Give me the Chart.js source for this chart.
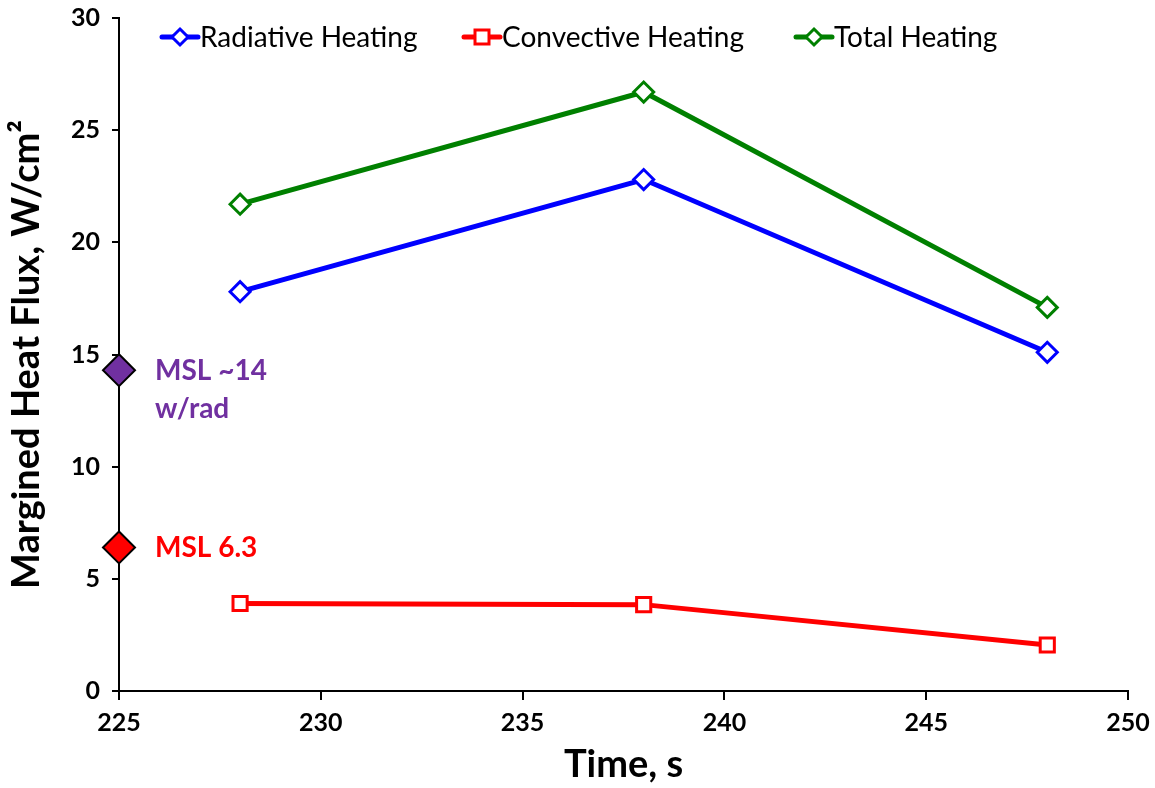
<!DOCTYPE html>
<html>
<head>
<meta charset="utf-8">
<script src="https://cdn.jsdelivr.net/npm/chart.js@4.4.0/dist/chart.umd.min.js"></script>
<style>
  html, body { margin: 0; padding: 0; background: #fff; }
  #wrap { width: 1155px; height: 788px; }
</style>
</head>
<body>
<div id="wrap"><canvas id="heatChart"></canvas></div>
<script>
// data
const times = [228, 238, 248];
const radiative = [17.8, 22.8, 15.1];
const convective = [3.9, 3.85, 2.05];
const total = [21.7, 26.7, 17.1];
const mslTime = 225;
const mslRad = 14.3;
const mslConv = 6.4;
const xTicks = [225, 230, 235, 240, 245, 250];
const yTicks = [0, 5, 10, 15, 20, 25, 30];

const FONT = 'Lato, "Open Sans", sans-serif';

function pts(xs, ys) {
    return xs.map((x, i) => ({ x: x, y: ys[i] }));
}

// legend drawn inside the plot, line + marker like the original
const insideLegend = {
    id: 'insideLegend',
    afterDraw(chart) {
        const ctx = chart.ctx;
        const items = [
            { ds: 0, x: 162, text: 'Radiative Heating' },
            { ds: 1, x: 464, text: 'Convective Heating' },
            { ds: 2, x: 796, text: 'Total Heating' }
        ];
        const y = 37;
        ctx.save();
        items.forEach(it => {
            const ds = chart.data.datasets[it.ds];
            ctx.strokeStyle = ds.borderColor;
            ctx.lineWidth = 5;
            ctx.lineCap = 'round';
            ctx.beginPath();
            ctx.moveTo(it.x, y);
            ctx.lineTo(it.x + 36, y);
            ctx.stroke();
            ctx.fillStyle = '#fff';
            ctx.lineWidth = 3;
            const cx = it.x + 18;
            ctx.beginPath();
            if (ds.pointStyle === 'rect') {
                ctx.rect(cx - 7, y - 7, 14, 14);
            } else {
                ctx.moveTo(cx, y - 8);
                ctx.lineTo(cx + 8, y);
                ctx.lineTo(cx, y + 8);
                ctx.lineTo(cx - 8, y);
                ctx.closePath();
            }
            ctx.fill();
            ctx.stroke();
            ctx.fillStyle = '#000';
            ctx.font = '28px ' + FONT;
            ctx.textBaseline = 'middle';
            ctx.textAlign = 'left';
            ctx.fillText(it.text, it.x + 38, y + 1);
        });

        // MSL labels next to the diamonds
        const xs = chart.scales.x, ys = chart.scales.y;
        const lx = xs.getPixelForValue(mslTime) + 36;
        ctx.font = 'bold 28px ' + FONT;
        ctx.fillStyle = '#7030A0';
        ctx.fillText('MSL ~14', lx, ys.getPixelForValue(mslRad) + 1);
        ctx.fillText('w/rad', lx, ys.getPixelForValue(mslRad) + 39);
        ctx.fillStyle = '#FF0000';
        ctx.fillText('MSL 6.3', lx, ys.getPixelForValue(mslConv) + 1);
        ctx.restore();
    }
};

function noEdgePadding(s) {
    s.paddingTop = 0;
    s.paddingBottom = 0;
    s.paddingLeft = 0;
    s.paddingRight = 0;
}

const ctx = document.getElementById('heatChart').getContext('2d');
new Chart(ctx, {
    type: 'scatter',
    data: {
        datasets: [
            {
                label: 'Radiative Heating',
                data: pts(times, radiative),
                showLine: true,
                borderColor: '#0000FF',
                backgroundColor: '#fff',
                borderWidth: 5,
                pointStyle: 'rectRot',
                pointRadius: 10,
                pointBorderWidth: 3,
                pointBackgroundColor: '#fff'
            },
            {
                label: 'Convective Heating',
                data: pts(times, convective),
                showLine: true,
                borderColor: '#FF0000',
                backgroundColor: '#fff',
                borderWidth: 5,
                pointStyle: 'rect',
                pointRadius: 10,
                pointBorderWidth: 3,
                pointBackgroundColor: '#fff'
            },
            {
                label: 'Total Heating',
                data: pts(times, total),
                showLine: true,
                borderColor: '#008000',
                backgroundColor: '#fff',
                borderWidth: 5,
                pointStyle: 'rectRot',
                pointRadius: 10,
                pointBorderWidth: 3,
                pointBackgroundColor: '#fff'
            },
            {
                label: 'MSL rad',
                data: [{ x: mslTime, y: mslRad }],
                pointStyle: 'rectRot',
                pointRadius: 16,
                pointBorderWidth: 2,
                pointBorderColor: '#000',
                pointBackgroundColor: '#7030A0',
                clip: false
            },
            {
                label: 'MSL conv',
                data: [{ x: mslTime, y: mslConv }],
                pointStyle: 'rectRot',
                pointRadius: 16,
                pointBorderWidth: 2,
                pointBorderColor: '#000',
                pointBackgroundColor: '#FF0000',
                clip: false
            }
        ]
    },
    options: {
        responsive: true,
        maintainAspectRatio: false,
        animation: false,
        layout: { padding: { top: 16, right: 27, left: 0, bottom: 0 } },
        plugins: {
            legend: { display: false },
            tooltip: { enabled: false }
        },
        scales: {
            x: {
                type: 'linear',
                min: 225,
                max: 250,
                afterBuildTicks: s => { s.ticks = xTicks.map(v => ({ value: v })); },
                afterFit: s => { s.height = 97; noEdgePadding(s); },
                border: { color: '#000', width: 2 },
                grid: { drawOnChartArea: false, drawTicks: true, tickLength: 9, color: '#000', lineWidth: 2 },
                ticks: { color: '#000', font: { family: FONT, size: 25, weight: 'bold' }, padding: 8 },
                title: {
                    display: true,
                    text: 'Time, s',
                    color: '#000',
                    font: { family: FONT, size: 38, weight: 'bold' },
                    padding: { top: 0, bottom: 0 }
                }
            },
            y: {
                min: 0,
                max: 30,
                afterBuildTicks: s => { s.ticks = yTicks.map(v => ({ value: v })); },
                afterFit: s => { s.width = 119; noEdgePadding(s); },
                border: { color: '#000', width: 2 },
                grid: { drawOnChartArea: false, drawTicks: true, tickLength: 7, color: '#000', lineWidth: 2 },
                ticks: { color: '#000', font: { family: FONT, size: 25, weight: 'bold' }, padding: 12 },
                title: {
                    display: true,
                    text: 'Margined Heat Flux, W/cm²',
                    color: '#000',
                    font: { family: FONT, size: 38, weight: 'bold' },
                    padding: { top: 4, bottom: 0 }
                }
            }
        }
    },
    plugins: [insideLegend]
});
</script>
</body>
</html>
